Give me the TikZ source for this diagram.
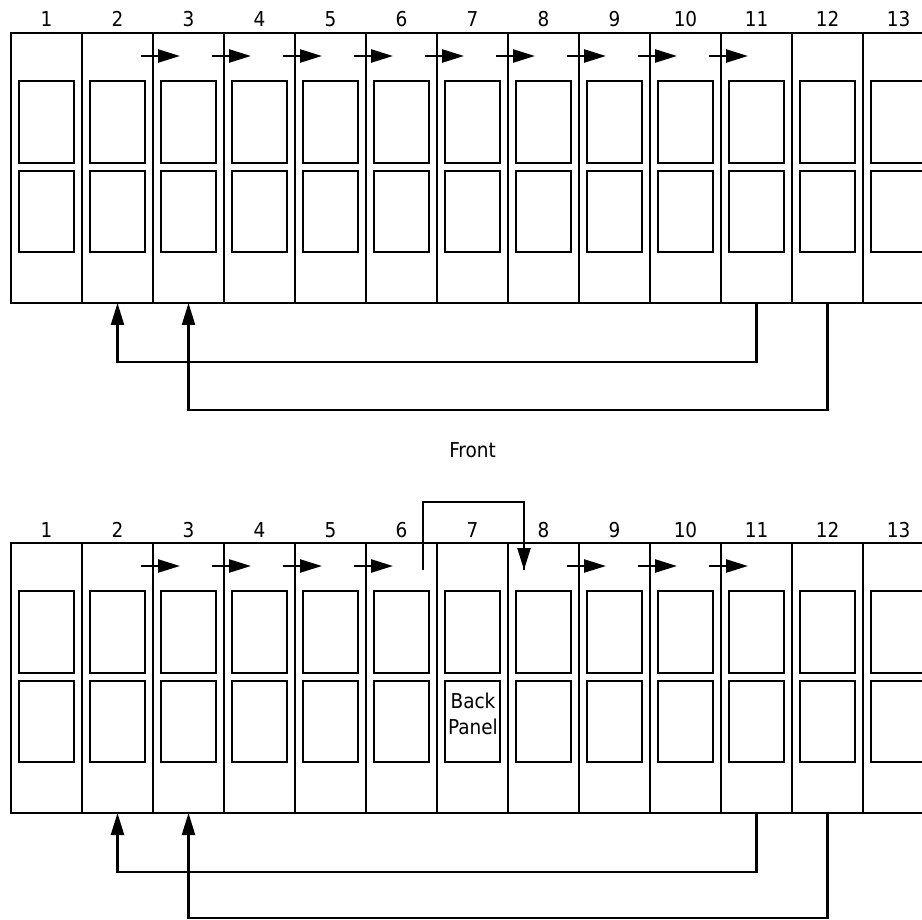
\documentclass[tikz,border=0pt]{standalone}
\usepackage{fontspec}
\setmainfont{DejaVu Sans Condensed}
\usetikzlibrary{arrows.meta}
\begin{document}
\begin{tikzpicture}[x=1pt,y=-1pt,
  colbox/.style={draw,line width=2.4pt,minimum width=71pt,minimum height=270pt,inner sep=0pt,outer sep=0pt,anchor=north west},
  slot/.style={draw,line width=2.6pt,inner sep=0pt,outer sep=0pt,anchor=north west,minimum width=55pt},
  num/.style={font=\fontsize{20.5pt}{22pt}\selectfont,inner sep=0pt},
  lbl/.style={font=\fontsize{20.5pt}{26pt}\selectfont,align=center,inner sep=0pt},
  arr/.style={line width=2.4pt,-{Triangle[length=22pt,width=13pt]}},
  wire/.style={line width=2.4pt}]
\path[use as bounding box] (0,0) rectangle (922,920);
\clip (0,0) rectangle (922,920);
% two panels: prefix t (top, y offset 0) and b (bottom, y offset 510)
\foreach \p/\dy in {t/0,b/510}{
  \foreach \i in {1,...,13}{
    \pgfmathsetmacro{\xl}{11+71*(\i-1)}
    \node[colbox] (\p\i) at (\xl,33+\dy) {};
    \node[slot,minimum height=82pt] (\p\i a) at (\xl+8,81+\dy) {};
    \node[slot,minimum height=81pt] (\p\i b) at (\xl+8,171+\dy) {};
    \node[num,anchor=base] (\p n\i) at (\xl+35.5,27+\dy) {\i};
  }
}
% top panel: airflow arrows between columns
\foreach \i in {3,...,11}{
  \draw[arr] ([xshift=-12pt,yshift=-23pt]t\i.north west) -- ++(39,0);
}
% bottom panel arrows
\foreach \i in {3,4,5,6,9,10,11}{
  \draw[arr] ([xshift=-12pt,yshift=-23pt]b\i.north west) -- ++(39,0);
}
% return paths top
\draw[arr] (t11.south) -- ++(0,59) -| (t2.south);
\draw[arr] (t12.south) -- ++(0,107) -| (t3.south);
% return paths bottom
\draw[arr] (b11.south) -- ++(0,59) -| (b2.south);
\draw[arr] (b12.south) -- ++(0,105) -| (b3.south);
% bypass over back panel
\coordinate (bpl) at ([xshift=-14pt,yshift=-27pt]b7.north west);
\coordinate (bpr) at ([xshift=16pt,yshift=-27pt]b8.north west);
\draw[wire] (bpl) -- ++(0,-68) -| (bpr);
\draw[arr] ([yshift=-1pt]bpr |- 0,502) -- (bpr);
\node[lbl] (bp) at (473,714) {Back\\Panel};
\node[lbl,anchor=base] (front) at (472.5,457) {Front};
\end{tikzpicture}
\end{document}
